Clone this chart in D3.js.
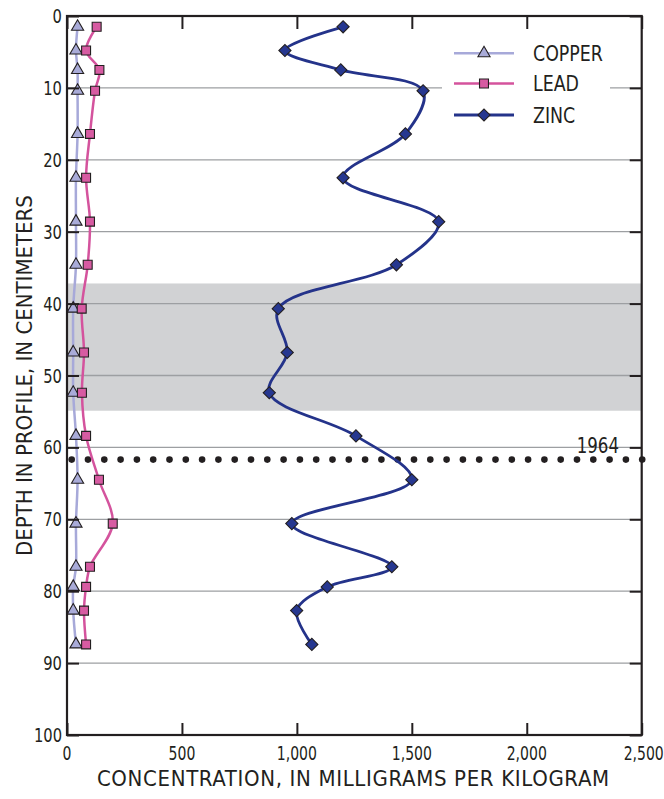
<!DOCTYPE html>
<html>
<head>
<meta charset="utf-8">
<script src="https://cdn.jsdelivr.net/npm/d3@7"></script>
<style>
  html, body { margin: 0; padding: 0; background: #fff; }
  svg { display: block; }
  text { font-family: "Liberation Sans Narrow", "DejaVu Sans Condensed", "Arial Narrow", sans-serif; fill: #231f20; }
</style>
</head>
<body>
<svg id="chart" width="664" height="799"></svg>
<script>
// Sample depths (cm) shared by all three metals
const depths = [1.5, 4.8, 7.5, 10.4, 16.4, 22.5, 28.6, 34.6, 40.7, 46.8, 52.4, 58.4, 64.5, 70.6, 76.6, 79.4, 82.7, 87.4];

// Concentrations, mg/kg
const copper = [46, 39, 46, 46, 46, 39, 39, 39, 27, 27, 27, 39, 46, 39, 39, 27, 27, 39];
const lead   = [129, 83, 141, 122, 100, 83, 100, 90, 64, 74, 65, 83, 139, 199, 100, 83, 74, 83];
const zinc   = [1201, 948, 1191, 1549, 1472, 1201, 1617, 1433, 919, 958, 880, 1257, 1500, 978, 1413, 1132, 999, 1065];

const seriesNames = ["COPPER", "LEAD", "ZINC"];
const xTicks = [0, 500, 1000, 1500, 2000, 2500];
const yTicks = [0, 10, 20, 30, 40, 50, 60, 70, 80, 90, 100];

// Shaded depth interval and the 1964 marker horizon
const bandDepths = [37.2, 54.9];
const horizonDepth = 61.7;
const horizonLabel = "1964";

const colors = {
  COPPER: { line: "#a7a9d9", fill: "#a9abd8" },
  LEAD:   { line: "#d4539d", fill: "#d75ba2" },
  ZINC:   { line: "#24338a", fill: "#263790" }
};
const ink = "#231f20";

const svg = d3.select("#chart");
const plotLeft = 67, plotRight = 641.7, plotTop = 16, plotBottom = 735;

const x = d3.scaleLinear().domain([0, 2500]).range([plotLeft, plotRight]);
const y = d3.scaleLinear().domain([0, 100]).range([plotTop, plotBottom]);

// place a text at (tx, ty) squeezed horizontally for a condensed look
function squeeze(sel, tx, ty, sx) {
  sel.attr("transform", (d, i) => {
    const px = typeof tx === "function" ? tx(d, i) : tx;
    const py = typeof ty === "function" ? ty(d, i) : ty;
    return `translate(${px},${py}) scale(${sx},1)`;
  });
  return sel;
}

// shaded band
svg.append("rect")
  .attr("x", x(0)).attr("width", x(2500) - x(0))
  .attr("y", y(bandDepths[0])).attr("height", y(bandDepths[1]) - y(bandDepths[0]))
  .attr("fill", "#d1d2d4");

// horizontal grid
svg.append("g").selectAll("line")
  .data(yTicks.filter(d => d > 0 && d < 100))
  .join("line")
  .attr("x1", x(0)).attr("x2", x(2500))
  .attr("y1", d => y(d)).attr("y2", d => y(d))
  .attr("stroke", "#9d9fa2").attr("stroke-width", 1.3);

// 1964 horizon: row of dots
const dotStep = 16.3;
const dotXs = d3.range(x(0) + 4.7, x(2500) + 1, dotStep);
svg.append("g").selectAll("circle")
  .data(dotXs)
  .join("circle")
  .attr("cx", d => d).attr("cy", y(horizonDepth)).attr("r", 3.3)
  .attr("fill", ink);

squeeze(svg.append("text"), 619, y(horizonDepth) - 7, 0.84)
  .attr("text-anchor", "end")
  .attr("font-size", 22)
  .text(horizonLabel);

// profile lines
const series = [
  { name: "COPPER", values: copper },
  { name: "LEAD", values: lead },
  { name: "ZINC", values: zinc }
];

const line = d3.line()
  .x(d => x(d[0]))
  .y(d => y(d[1]))
  .curve(d3.curveCatmullRom.alpha(0.5));

series.forEach(s => {
  const pts = s.values.map((v, i) => [v, depths[i]]);
  svg.append("path")
    .datum(pts)
    .attr("d", line)
    .attr("fill", "none")
    .attr("stroke", colors[s.name].line)
    .attr("stroke-width", s.name === "ZINC" ? 2.8 : 2.5)
    .attr("stroke-linejoin", "round");
});

// markers
const symbols = {
  COPPER: { gen: d3.symbol().type(d3.symbolTriangle).size(64), rot: 0 },
  LEAD:   { gen: d3.symbol().type(d3.symbolSquare).size(80), rot: 0 },
  ZINC:   { gen: d3.symbol().type(d3.symbolSquare).size(74), rot: 45 }
};

function drawMarker(sel, name) {
  sel.attr("d", symbols[name].gen())
    .attr("fill", colors[name].fill)
    .attr("stroke", ink)
    .attr("stroke-width", 1.1);
}

series.forEach(s => {
  svg.append("g").selectAll("path")
    .data(s.values.map((v, i) => [v, depths[i]]))
    .join("path")
    .attr("transform", d => `translate(${x(d[0])},${y(d[1])}) rotate(${symbols[s.name].rot})`)
    .call(drawMarker, s.name);
});

// frame
svg.append("rect")
  .attr("x", plotLeft).attr("y", plotTop)
  .attr("width", plotRight - plotLeft).attr("height", plotBottom - plotTop)
  .attr("fill", "none").attr("stroke", ink).attr("stroke-width", 2.2);

// axes with inward ticks
const yAxisL = d3.axisRight(y).tickValues(yTicks).tickSize(12).tickFormat("");
const yAxisR = d3.axisLeft(y).tickValues(yTicks).tickSize(12).tickFormat("");
const xAxisT = d3.axisBottom(x).tickValues(xTicks).tickSize(13).tickFormat("");
const xAxisB = d3.axisTop(x).tickValues(xTicks).tickSize(12).tickFormat("");

[[yAxisL, `translate(${plotLeft},0)`], [yAxisR, `translate(${plotRight},0)`],
 [xAxisT, `translate(0,${plotTop})`], [xAxisB, `translate(0,${plotBottom})`]].forEach(([ax, tr]) => {
  const g = svg.append("g").attr("transform", tr).call(ax);
  g.select(".domain").remove();
  g.selectAll(".tick line").attr("stroke", ink).attr("stroke-width", 2);
});

// tick labels
squeeze(svg.append("g").selectAll("text")
  .data(yTicks)
  .join("text"), plotLeft - 5, d => y(d), 0.84)
  .attr("dy", "0.36em")
  .attr("text-anchor", "end")
  .attr("font-size", 19.5)
  .text(d => d);

const fmt = d3.format(",");
squeeze(svg.append("g").selectAll("text")
  .data(xTicks)
  .join("text"), d => x(d) + (d === 2500 ? 2 : 0), 760, 0.8)
  .attr("text-anchor", "middle")
  .attr("font-size", 19.5)
  .text(d => fmt(d));

// axis titles
svg.append("text")
  .attr("x", (plotLeft + plotRight) / 2 - 1).attr("y", 786)
  .attr("text-anchor", "middle")
  .attr("font-size", 22)
  .attr("letter-spacing", 0.65)
  .text("CONCENTRATION, IN MILLIGRAMS PER KILOGRAM");

svg.append("text")
  .attr("transform", `translate(32,${(plotTop + plotBottom) / 2}) rotate(-90)`)
  .attr("text-anchor", "middle")
  .attr("font-size", 22)
  .text("DEPTH IN PROFILE, IN CENTIMETERS");

// legend
const legend = svg.append("g");
legend.append("rect")
  .attr("x", 442).attr("y", 38).attr("width", 168).attr("height", 94)
  .attr("fill", "#fff");
const legendY = [53.3, 83.5, 115];
seriesNames.forEach((name, i) => {
  const ly = legendY[i];
  legend.append("line")
    .attr("x1", 454).attr("x2", 514).attr("y1", ly).attr("y2", ly)
    .attr("stroke", colors[name].line).attr("stroke-width", name === "ZINC" ? 2.8 : 2.5);
  legend.append("path")
    .attr("transform", `translate(484,${ly}) rotate(${symbols[name].rot})`)
    .call(drawMarker, name);
  squeeze(legend.append("text"), 533, ly, 0.9)
    .attr("dy", "0.36em")
    .attr("font-size", 21.5)
    .text(name);
});
</script>
</body>
</html>
